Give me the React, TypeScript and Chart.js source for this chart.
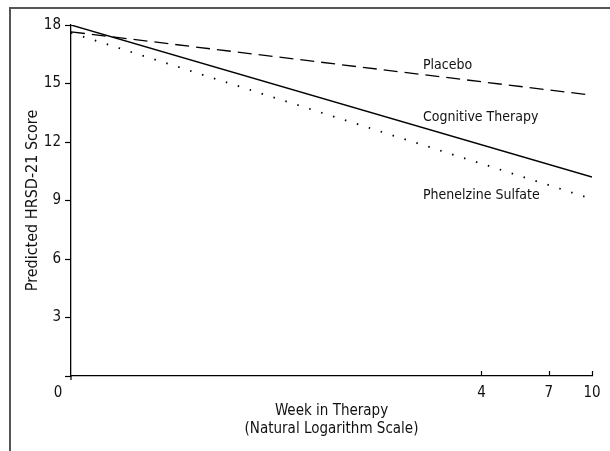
import React, { useEffect, useRef } from "react";
import { Chart, registerables } from "chart.js";

Chart.register(...registerables);

const weeks = [0, 10];
const placebo = [17.65, 14.4];
const cognitiveTherapy = [18.0, 10.2];
const phenelzine = [17.6, 9.08];
const xTickWeeks = [0, 4, 7, 10];
const yTicks = [0, 3, 6, 9, 12, 15, 18];
const seriesLabels = ["Placebo", "Cognitive Therapy", "Phenelzine Sulfate"];

const OFFSET = 0.15;
const toLn = (w: number) => Math.log(w + OFFSET);

const FONT = "'Liberation Sans Narrow', 'DejaVu Sans Condensed', sans-serif";

export default function App() {
  const ref = useRef<HTMLCanvasElement | null>(null);

  useEffect(() => {
    if (!ref.current) return;
    const mk = (vals: number[]) => weeks.map((w, i) => ({ x: toLn(w), y: vals[i] }));

    const decor = {
      id: "decor",
      afterDraw(chart: any) {
        const { ctx } = chart;
        const xs = chart.scales.x;
        const ys = chart.scales.y;
        ctx.save();
        // frame
        ctx.strokeStyle = "#555";
        ctx.lineWidth = 2;
        ctx.beginPath();
        ctx.moveTo(10, 451);
        ctx.lineTo(10, 8);
        ctx.lineTo(610, 8);
        ctx.stroke();
        // x ticks (inside)
        ctx.strokeStyle = "#000";
        ctx.lineWidth = 1.2;
        const yb = ys.getPixelForValue(0);
        xTickWeeks.forEach((w) => {
          if (w === 0) return;
          const px = Math.round(xs.getPixelForValue(toLn(w))) + 0.5;
          ctx.beginPath();
          ctx.moveTo(px, yb);
          ctx.lineTo(px, yb - 5);
          ctx.stroke();
        });
        // y-axis extension below
        ctx.beginPath();
        ctx.moveTo(xs.left, yb);
        ctx.lineTo(xs.left, yb + 4);
        ctx.stroke();
        // x "0" label
        ctx.fillStyle = "#111";
        ctx.font = "15px " + FONT;
        ctx.textAlign = "center";
        ctx.textBaseline = "middle";
        ctx.fillText(String(xTickWeeks[0]), 58, 393);
        // series labels
        ctx.font = "14px " + FONT;
        ctx.textAlign = "left";
        ctx.fillText(seriesLabels[0], 423, 65);
        ctx.fillText(seriesLabels[1], 423, 117);
        ctx.fillText(seriesLabels[2], 423, 195);
        ctx.restore();
      },
    };

    const chart = new Chart(ref.current, {
      type: "line",
      data: {
        datasets: [
          {
            label: seriesLabels[0],
            data: mk(placebo),
            borderColor: "#000",
            borderWidth: 1.3,
            borderDash: [14, 7],
            pointRadius: 0,
          },
          {
            label: seriesLabels[1],
            data: mk(cognitiveTherapy),
            borderColor: "#000",
            borderWidth: 1.4,
            pointRadius: 0,
          },
          {
            label: seriesLabels[2],
            data: mk(phenelzine),
            borderColor: "#000",
            borderWidth: 1.8,
            borderDash: [1.5, 11],
            pointRadius: 0,
          },
        ],
      },
      options: {
        animation: false,
        responsive: false,
        devicePixelRatio: 1,
        layout: { padding: { left: 0, top: 25, right: 18, bottom: 0 } },
        plugins: { legend: { display: false }, tooltip: { enabled: false } },
        scales: {
          x: {
            type: "linear",
            min: toLn(xTickWeeks[0]),
            max: toLn(xTickWeeks[xTickWeeks.length - 1]),
            afterFit: (s: any) => {
              s.height = 75;
            },
            afterBuildTicks: (s: any) => {
              s.ticks = xTickWeeks.map((w) => ({ value: toLn(w) }));
            },
            ticks: {
              autoSkip: false,
              maxRotation: 0,
              padding: 8,
              color: "#111",
              font: { family: FONT, size: 15 },
              callback: (v: any) => {
                const w = xTickWeeks.find((t) => Math.abs(toLn(t) - Number(v)) < 1e-6);
                return w === undefined || w === 0 ? "" : String(w);
              },
            },
            grid: { display: false, drawTicks: false },
            border: { display: true, color: "#000", width: 1.3 },
            title: {
              display: true,
              text: ["Week in Therapy", "(Natural Logarithm Scale)"],
              color: "#111",
              font: { family: FONT, size: 15, lineHeight: 1.2 },
              padding: { top: 0, bottom: 13 },
            },
          },
          y: {
            type: "linear",
            min: 0,
            max: 18,
            afterFit: (s: any) => {
              s.width = 71;
            },
            afterBuildTicks: (s: any) => {
              s.ticks = yTicks.map((v) => ({ value: v }));
            },
            ticks: {
              padding: 4,
              color: "#111",
              font: { family: FONT, size: 15 },
              callback: (v: any) => (Number(v) === 0 ? "" : String(v)),
            },
            grid: { drawOnChartArea: false, tickLength: 6, color: "#000", tickWidth: 1.2 },
            border: { display: true, color: "#000", width: 1.3 },
            title: {
              display: true,
              text: "Predicted HRSD-21 Score",
              color: "#111",
              font: { family: FONT, size: 16, lineHeight: 1.2 },
              padding: { top: 23, bottom: 0 },
            },
          },
        },
      },
      plugins: [decor],
    });
    return () => chart.destroy();
  }, []);

  return (
    <div style={{ position: "fixed", left: 0, top: 0, width: 610, height: 451, background: "#fff" }}>
      <canvas ref={ref} width={610} height={451} style={{ display: "block", width: 610, height: 451 }} />
    </div>
  );
}
